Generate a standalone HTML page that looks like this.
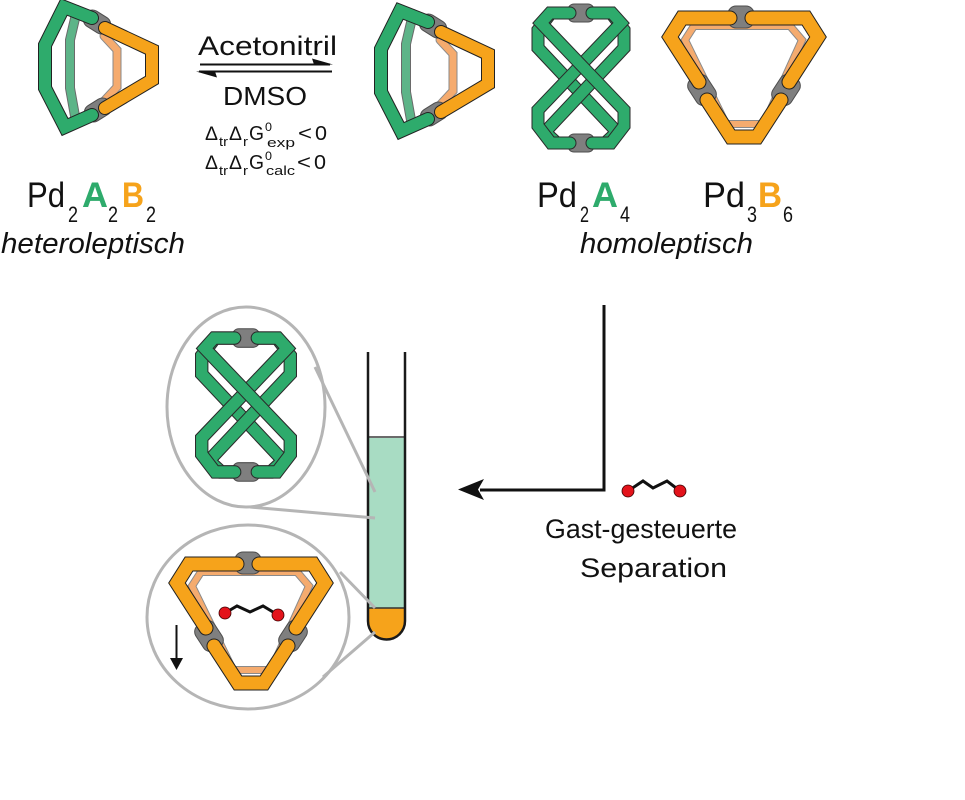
<!DOCTYPE html>
<html>
<head>
<meta charset="utf-8">
<style>
html,body{margin:0;padding:0;background:#fff;}
svg{display:block;}
text{font-family:"Liberation Sans",sans-serif;fill:#111;}
</style>
</head>
<body>
<svg width="965" height="800" viewBox="0 0 965 800" xmlns="http://www.w3.org/2000/svg">
<defs>
  <g id="het">
    <polyline points="77,10 70,40 70,88 75,116" fill="none" stroke="#6a6a6a" stroke-width="10" stroke-linecap="round" stroke-linejoin="miter"/>
    <polyline points="77,10 70,40 70,88 75,116" fill="none" stroke="#5db488" stroke-width="8" stroke-linecap="round" stroke-linejoin="miter"/>
    <polyline points="104,36 117,50 117,87 104,101" fill="none" stroke="#8a8a8a" stroke-width="9" stroke-linecap="round" stroke-linejoin="miter"/>
    <polyline points="104,36 117,50 117,87 104,101" fill="none" stroke="#f5ab6e" stroke-width="7" stroke-linecap="round" stroke-linejoin="miter"/>
    <rect x="-14" y="-9" width="28" height="18" rx="8" transform="translate(97,22) rotate(32)" fill="#7f7f7f" stroke="#4d4d4d" stroke-width="1"/>
    <rect x="-14" y="-9" width="28" height="18" rx="8" transform="translate(98,110) rotate(-32)" fill="#7f7f7f" stroke="#4d4d4d" stroke-width="1"/>
    <polyline points="92,18 64,7 45,45 45,88 65,127 92,115" fill="none" stroke="#222" stroke-width="14" stroke-linecap="round" stroke-linejoin="miter"/>
    <polyline points="92,18 64,7 45,45 45,88 65,127 92,115" fill="none" stroke="#2eab6c" stroke-width="12" stroke-linecap="round" stroke-linejoin="miter"/>
    <polyline points="105,28 152,50 152,80 105,108" fill="none" stroke="#222" stroke-width="14" stroke-linecap="round" stroke-linejoin="miter"/>
    <polyline points="105,28 152,50 152,80 105,108" fill="none" stroke="#f6a31b" stroke-width="12" stroke-linecap="round" stroke-linejoin="miter"/>
  </g>

  <g id="p2a4">
    <rect x="-13" y="-74" width="26" height="18" rx="6" fill="#7f7f7f" stroke="#4d4d4d" stroke-width="1"/>
    <rect x="-13" y="56" width="26" height="18" rx="6" fill="#7f7f7f" stroke="#4d4d4d" stroke-width="1"/>
    <polyline points="-12,-65 -30,-65 -43,-48 -43,-30 36,54 24,65 12,65" fill="none" stroke="#2a2a2a" stroke-width="13" stroke-linecap="round" stroke-linejoin="miter"/>
    <polyline points="-12,-65 -30,-65 -43,-48 -43,-30 36,54 24,65 12,65" fill="none" stroke="#2eab6c" stroke-width="11" stroke-linecap="round" stroke-linejoin="miter"/>
    <polyline points="12,-65 30,-65 43,-48 43,-30 -36,54 -24,65 -12,65" fill="none" stroke="#2a2a2a" stroke-width="13" stroke-linecap="round" stroke-linejoin="miter"/>
    <polyline points="12,-65 30,-65 43,-48 43,-30 -36,54 -24,65 -12,65" fill="none" stroke="#2eab6c" stroke-width="11" stroke-linecap="round" stroke-linejoin="miter"/>
    <polyline points="11,-65 31,-65 40,-55 -43,32 -43,48 -30,65 -11,65" fill="none" stroke="#2a2a2a" stroke-width="13" stroke-linecap="round" stroke-linejoin="miter"/>
    <polyline points="11,-65 31,-65 40,-55 -43,32 -43,48 -30,65 -11,65" fill="none" stroke="#2eab6c" stroke-width="11" stroke-linecap="round" stroke-linejoin="miter"/>
    <polyline points="-11,-65 -31,-65 -40,-55 43,32 43,48 30,65 11,65" fill="none" stroke="#2a2a2a" stroke-width="13" stroke-linecap="round" stroke-linejoin="miter"/>
    <polyline points="-11,-65 -31,-65 -40,-55 43,32 43,48 30,65 11,65" fill="none" stroke="#2eab6c" stroke-width="11" stroke-linecap="round" stroke-linejoin="miter"/>
  </g>

  <g id="tri">
    <polygon points="694,26 790,26 802,40 764,124 726,124 685,40" fill="none" stroke="#8a8a8a" stroke-width="8" stroke-linejoin="miter"/>
    <polygon points="694,26 790,26 802,40 764,124 726,124 685,40" fill="none" stroke="#f5ab6e" stroke-width="6" stroke-linejoin="miter"/>
    <rect x="-13" y="-11" width="26" height="22" rx="8" transform="translate(741,17)" fill="#7f7f7f" stroke="#4d4d4d" stroke-width="1"/>
    <rect x="-15" y="-11" width="30" height="22" rx="8" transform="translate(702,90) rotate(57)" fill="#7f7f7f" stroke="#4d4d4d" stroke-width="1"/>
    <rect x="-15" y="-11" width="30" height="22" rx="8" transform="translate(786,90) rotate(-57)" fill="#7f7f7f" stroke="#4d4d4d" stroke-width="1"/>
    <polyline points="730,18 682,18 670,37 699,82" fill="none" stroke="#222" stroke-width="15" stroke-linecap="round" stroke-linejoin="miter"/>
    <polyline points="730,18 682,18 670,37 699,82" fill="none" stroke="#f6a31b" stroke-width="13" stroke-linecap="round" stroke-linejoin="miter"/>
    <polyline points="752,18 806,18 818,37 789,82" fill="none" stroke="#222" stroke-width="15" stroke-linecap="round" stroke-linejoin="miter"/>
    <polyline points="752,18 806,18 818,37 789,82" fill="none" stroke="#f6a31b" stroke-width="13" stroke-linecap="round" stroke-linejoin="miter"/>
    <polyline points="707,100 731,137 757,137 781,100" fill="none" stroke="#222" stroke-width="15" stroke-linecap="round" stroke-linejoin="miter"/>
    <polyline points="707,100 731,137 757,137 781,100" fill="none" stroke="#f6a31b" stroke-width="13" stroke-linecap="round" stroke-linejoin="miter"/>
  </g>
</defs>

<rect width="965" height="800" fill="#fff"/>

<use href="#het"/>
<use href="#het" transform="translate(336,4)"/>
<use href="#p2a4" transform="translate(581,78)"/>
<use href="#tri"/>

<text x="198" y="55" font-size="27" textLength="139" lengthAdjust="spacingAndGlyphs">Acetonitril</text>
<line x1="200" y1="64.5" x2="330" y2="64.5" stroke="#111" stroke-width="2"/>
<polygon points="333,64.5 312,58.5 314,64.5" fill="#111"/>
<line x1="199" y1="71.5" x2="332" y2="71.5" stroke="#111" stroke-width="2"/>
<polygon points="196,71.5 217,77.5 215,71.5" fill="#111"/>
<text x="223" y="105" font-size="26" textLength="84" lengthAdjust="spacingAndGlyphs">DMSO</text>

<text x="205" y="140" font-size="19" textLength="13" lengthAdjust="spacingAndGlyphs">Δ</text>
<text x="219" y="146" font-size="13" textLength="9" lengthAdjust="spacingAndGlyphs">tr</text>
<text x="229" y="140" font-size="19" textLength="13" lengthAdjust="spacingAndGlyphs">Δ</text>
<text x="243" y="146" font-size="13" textLength="5" lengthAdjust="spacingAndGlyphs">r</text>
<text x="249" y="140" font-size="20" textLength="15" lengthAdjust="spacingAndGlyphs">G</text>
<text x="265" y="131" font-size="12" textLength="7" lengthAdjust="spacingAndGlyphs">0</text>
<text x="267" y="147" font-size="13" textLength="28" lengthAdjust="spacingAndGlyphs">exp</text>
<text x="298" y="140" font-size="20" textLength="14" lengthAdjust="spacingAndGlyphs">&lt;</text>
<text x="315" y="140" font-size="20" textLength="12" lengthAdjust="spacingAndGlyphs">0</text>

<text x="205" y="169" font-size="19" textLength="13" lengthAdjust="spacingAndGlyphs">Δ</text>
<text x="219" y="175" font-size="13" textLength="9" lengthAdjust="spacingAndGlyphs">tr</text>
<text x="229" y="169" font-size="19" textLength="13" lengthAdjust="spacingAndGlyphs">Δ</text>
<text x="243" y="175" font-size="13" textLength="5" lengthAdjust="spacingAndGlyphs">r</text>
<text x="249" y="169" font-size="20" textLength="15" lengthAdjust="spacingAndGlyphs">G</text>
<text x="265" y="160" font-size="12" textLength="7" lengthAdjust="spacingAndGlyphs">0</text>
<text x="266" y="175" font-size="13" textLength="29" lengthAdjust="spacingAndGlyphs">calc</text>
<text x="297" y="169" font-size="20" textLength="14" lengthAdjust="spacingAndGlyphs">&lt;</text>
<text x="314" y="169" font-size="20" textLength="12" lengthAdjust="spacingAndGlyphs">0</text>

<text x="27" y="207" font-size="35" textLength="38" lengthAdjust="spacingAndGlyphs">Pd</text>
<text x="68" y="222" font-size="22" textLength="10" lengthAdjust="spacingAndGlyphs">2</text>
<text x="82" y="207" font-size="35" font-weight="bold" style="fill:#2eab6c" textLength="26" lengthAdjust="spacingAndGlyphs">A</text>
<text x="108" y="222" font-size="22" textLength="10" lengthAdjust="spacingAndGlyphs">2</text>
<text x="122" y="207" font-size="35" font-weight="bold" style="fill:#f6a31b" textLength="22" lengthAdjust="spacingAndGlyphs">B</text>
<text x="146" y="222" font-size="22" textLength="10" lengthAdjust="spacingAndGlyphs">2</text>
<text x="1" y="253" font-size="29" font-style="italic" textLength="184" lengthAdjust="spacingAndGlyphs">heteroleptisch</text>

<text x="537" y="207" font-size="35" textLength="40" lengthAdjust="spacingAndGlyphs">Pd</text>
<text x="580" y="222" font-size="22" textLength="9" lengthAdjust="spacingAndGlyphs">2</text>
<text x="592" y="207" font-size="35" font-weight="bold" style="fill:#2eab6c" textLength="26" lengthAdjust="spacingAndGlyphs">A</text>
<text x="620" y="222" font-size="22" textLength="10" lengthAdjust="spacingAndGlyphs">4</text>

<text x="703" y="207" font-size="35" textLength="42" lengthAdjust="spacingAndGlyphs">Pd</text>
<text x="747" y="222" font-size="22" textLength="10" lengthAdjust="spacingAndGlyphs">3</text>
<text x="758" y="207" font-size="35" font-weight="bold" style="fill:#f6a31b" textLength="24" lengthAdjust="spacingAndGlyphs">B</text>
<text x="783" y="222" font-size="22" textLength="10" lengthAdjust="spacingAndGlyphs">6</text>
<text x="580" y="253" font-size="29" font-style="italic" textLength="173" lengthAdjust="spacingAndGlyphs">homoleptisch</text>

<polyline points="604,305 604,490 480,490" fill="none" stroke="#111" stroke-width="3"/>
<polygon points="458,489.5 484,479 478,489.5 484,500" fill="#111"/>

<polyline points="628,491 643,481 653,488 667,481 680,491" fill="none" stroke="#111" stroke-width="3" stroke-linejoin="miter"/>
<circle cx="628" cy="491" r="6" fill="#e3131b" stroke="#3a0000" stroke-width="0.8"/>
<circle cx="680" cy="491" r="6" fill="#e3131b" stroke="#3a0000" stroke-width="0.8"/>

<text x="545" y="538" font-size="27" textLength="192" lengthAdjust="spacingAndGlyphs">Gast-gesteuerte</text>
<text x="580" y="577" font-size="27" textLength="147" lengthAdjust="spacingAndGlyphs">Separation</text>

<rect x="368" y="437" width="37" height="171" fill="#a8dcc3"/>
<path d="M368,608 V621 A18.5,18.5 0 0 0 405,621 V608 Z" fill="#f6a31b"/>
<line x1="368" y1="437" x2="405" y2="437" stroke="#6b6b6b" stroke-width="2"/>
<line x1="368" y1="608" x2="405" y2="608" stroke="#333" stroke-width="1.5"/>
<path d="M368,352 V621 A18.5,18.5 0 0 0 405,621 V352" fill="none" stroke="#1a1a1a" stroke-width="2.5"/>

<ellipse cx="246" cy="407" rx="79" ry="100" fill="#fff" stroke="#b5b5b5" stroke-width="3"/>
<ellipse cx="248" cy="617" rx="101" ry="92" fill="#fff" stroke="#b5b5b5" stroke-width="3"/>
<line x1="315" y1="367" x2="375" y2="492" stroke="#b5b5b5" stroke-width="3"/>
<line x1="250" y1="507" x2="375" y2="518" stroke="#b5b5b5" stroke-width="3"/>
<line x1="340" y1="572" x2="375" y2="608" stroke="#b5b5b5" stroke-width="3"/>
<line x1="323" y1="677" x2="375" y2="632" stroke="#b5b5b5" stroke-width="3"/>

<use href="#p2a4" transform="translate(246,405) scale(1.03)"/>
<use href="#tri" transform="translate(-493,546)"/>

<polyline points="225,613 237,606 250,612 263,606 278,615" fill="none" stroke="#111" stroke-width="3" stroke-linejoin="miter"/>
<circle cx="225" cy="613" r="6" fill="#e3131b" stroke="#3a0000" stroke-width="0.8"/>
<circle cx="278" cy="615" r="6" fill="#e3131b" stroke="#3a0000" stroke-width="0.8"/>

<line x1="176.5" y1="625" x2="176.5" y2="660" stroke="#111" stroke-width="2"/>
<polygon points="170,658 183,658 176.5,670" fill="#111"/>
</svg>
</body>
</html>
